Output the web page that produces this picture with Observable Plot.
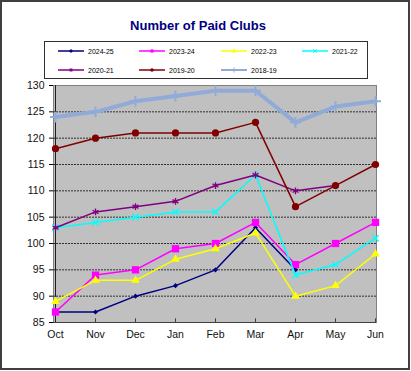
<!DOCTYPE html>
<html><head><meta charset="utf-8">
<script src="https://cdn.jsdelivr.net/npm/d3@7"></script>
<script src="https://cdn.jsdelivr.net/npm/@observablehq/plot@0.6"></script>
<style>
body{margin:0;background:#fff;font-family:Arial,"Liberation Sans",sans-serif;}
#wrap{position:relative;width:411px;height:371px;}
#border{position:absolute;left:0;top:0;width:406px;height:366px;border:2px solid #404040;}
#title{position:absolute;left:0;width:396px;top:18px;text-align:center;font-weight:bold;font-size:13px;color:#000080;}
#legend{position:absolute;left:44px;top:41px;width:322px;height:36px;border:1px solid #303030;background:#fff;}
.item{position:absolute;font-size:7px;color:#000;display:flex;align-items:center;}
.item svg{margin-right:2px;}
#chart{position:absolute;left:0;top:80px;}
</style></head>
<body>
<div id="wrap"><div id="border"></div><div id="title">Number of Paid Clubs</div><div id="legend"></div><div id="chart"></div></div>
<script>
const months = ["Oct","Nov","Dec","Jan","Feb","Mar","Apr","May","Jun"];
const seasons = ["2024-25","2023-24","2022-23","2021-22","2020-21","2019-20","2018-19"];
const s2425 = [87,87,90,92,95,103,95,null,null];
const s2324 = [87,94,95,99,100,104,96,100,104];
const s2223 = [89,93,93,97,99,102,90,92,98];
const s2122 = [103,104,105,106,106,113,94,96,101];
const s2021 = [103,106,107,108,111,113,110,111,null];
const s1920 = [118,120,121,121,121,123,107,111,115];
const s1819 = [124,125,127,128,129,129,123,126,127];
const yTicks = [85,90,95,100,105,110,115,120,125,130];
const gridValues = [90,95,100,105,110,115,120,125];

const seriesValues = [s2425,s2324,s2223,s2122,s2021,s1920,s1819];
const styles = [
  {color:"#000080", symbol:"diamond2", r:2.3, fill:true, width:1.5},
  {color:"#ff00ff", symbol:"square", r:4.1, fill:true, width:1.5},
  {color:"#ffff00", symbol:"triangle", r:3.2, fill:true, width:1.5},
  {color:"#00ffff", symbol:"times", r:3, fill:false, width:1.5},
  {color:"#800080", symbol:"asterisk", r:3.2, fill:false, width:1.5},
  {color:"#800000", symbol:"circle", r:3.6, fill:true, width:1.5},
  {color:"#91abd9", symbol:"plus", r:3.6, fill:false, width:4}
];

const rows = [];
seasons.forEach((s,i)=>seriesValues[i].forEach((v,j)=>{ if(v!=null) rows.push({season:s, month:months[j], value:v}); }));

const marks = [
  Plot.frame({fill:"#c0c0c0", stroke:"#808080"}),
  Plot.ruleY(gridValues, {stroke:"#303030", strokeDasharray:"2,1", strokeWidth:1}),
  Plot.axisY(yTicks, {tickSize:4, tickPadding:5, fontSize:10.5, fill:"#111", label:null}),
  Plot.axisX({tickSize:0, tickPadding:8, fontSize:10.5, fill:"#111", label:null}),
  Plot.ruleX(months, {x:d=>d, y1:85, y2:85.7, stroke:"#404040", strokeWidth:1}),
  Plot.ruleX([months[0]], {stroke:"#202020", strokeWidth:1}),
  Plot.ruleY([85], {stroke:"#404040", strokeWidth:1})
];
seasons.forEach((s,i)=>{
  const st = styles[i];
  const data = rows.filter(d=>d.season===s);
  marks.push(Plot.line(data, {x:"month", y:"value", stroke:st.color, strokeWidth:st.width}));
  marks.push(Plot.dot(data, {x:"month", y:"value", symbol:st.symbol, r:st.r,
    fill: st.fill ? st.color : "none", stroke:st.color, strokeWidth: st.fill?0:(i===6?2:1.3)}));
});

const chart = Plot.plot({
  width:411, height:291,
  marginLeft:53, marginRight:35, marginTop:5, marginBottom:49,
  style:{background:"transparent", fontFamily:"Arial, 'Liberation Sans', sans-serif", overflow:"visible"},
  x:{type:"point", domain:months, padding:0},
  y:{type:"linear", domain:[85,130]},
  marks
});
document.getElementById("chart").appendChild(chart);

// legend
const leg = document.getElementById("legend");
const positions = [[13,5],[94,5],[176,5],[257,5],[13,24],[94,24],[176,24]];
seasons.forEach((s,i)=>{
  const st = styles[i];
  const div = document.createElement("div");
  div.className = "item";
  div.style.left = positions[i][0]+"px";
  div.style.top = positions[i][1]+"px";
  const svg = d3.create("svg").attr("width",28).attr("height",8);
  svg.append("line").attr("x1",0).attr("x2",26).attr("y1",4).attr("y2",4)
    .attr("stroke",st.color).attr("stroke-width", i===6?2:1.5);
  const sym = {diamond2:d3.symbolDiamond2, square:d3.symbolSquare, triangle:d3.symbolTriangle, times:d3.symbolTimes, asterisk:d3.symbolAsterisk, circle:d3.symbolCircle, plus:d3.symbolPlus}[st.symbol];
  svg.append("path").attr("d", d3.symbol(sym, 10)()).attr("transform","translate(13,4)")
    .attr("fill", st.fill?st.color:"none").attr("stroke", st.color).attr("stroke-width", st.fill?0:1);
  div.appendChild(svg.node());
  const t = document.createElement("span");
  t.textContent = s;
  div.appendChild(t);
  leg.appendChild(div);
});
</script>
</body></html>
